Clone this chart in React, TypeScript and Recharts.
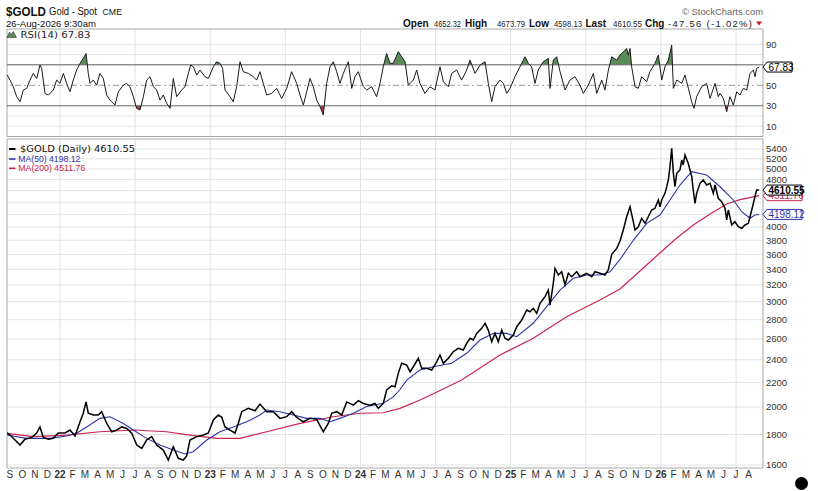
import React from 'react';
import {
  ComposedChart,
  Line,
  Area,
  XAxis,
  YAxis,
  CartesianGrid,
  ReferenceLine,
  ReferenceArea,
} from 'recharts';

type Pt = [number, number];

// time axis: months since 1-Jan-2022 (negative = late 2021)
const X_DOMAIN: [number, number] = [-4.233, 56.15];
const monthLetters = ['J', 'F', 'M', 'A', 'M', 'J', 'J', 'A', 'S', 'O', 'N', 'D'];
const monthTicks = Array.from({ length: 60 }, (_, i) => i - 4);
const halfYearLines = [0, 6, 12, 18, 24, 30, 36, 42, 48, 54];

const priceGrid = [1600, 1800, 2000, 2200, 2400, 2600, 2800, 3000, 3200, 3400, 3600, 3800, 4000, 4200, 4400, 4600, 4800, 5000, 5200, 5400];
const priceLabels = [1600, 1800, 2000, 2200, 2400, 2600, 2800, 3000, 3200, 3400, 3600, 3800, 4000, 4800, 5000, 5200, 5400];
const rsiGrid = [10, 20, 80, 90];
const rsiLabels = [10, 30, 50, 90];

const lastClose = 4610.55;
const lastMA50 = 4198.12;
const lastMA200 = 4511.76;
const lastRSI = 67.83;

const goldDaily: Pt[] = [
  [-4.23, 1812], [-3.99, 1796], [-3.59, 1762], [-3.19, 1728], [-2.8, 1767], [-2.26, 1780], [-1.86, 1810], [-1.6, 1853],
  [-1.33, 1780], [-0.93, 1767], [-0.54, 1774], [-0.14, 1810], [0.4, 1810], [0.8, 1831], [1.2, 1790], [1.6, 1890],
  [1.86, 1953], [2.08, 2040], [2.26, 1953], [2.66, 1940], [3.06, 1940], [3.33, 1965], [3.73, 1878], [4.13, 1819],
  [4.53, 1831], [4.93, 1853], [5.33, 1842], [5.73, 1808], [6.13, 1728], [6.53, 1706], [6.92, 1762], [7.32, 1785],
  [7.72, 1728], [8.25, 1695], [8.65, 1631], [9.05, 1717], [9.45, 1642], [9.85, 1631], [10.12, 1657], [10.38, 1762],
  [10.92, 1785], [11.45, 1796], [11.85, 1810], [12.25, 1903], [12.64, 1940], [12.91, 1925], [13.18, 1853], [13.58, 1831],
  [13.98, 1810], [14.24, 1878], [14.51, 1965], [15.04, 1990], [15.58, 1972], [15.97, 2023], [16.51, 1965], [17.04, 1965],
  [17.57, 1915], [18.11, 1928], [18.51, 1965], [18.91, 1922], [19.43, 1890], [19.97, 1915], [20.5, 1908], [21.03, 1819],
  [21.43, 1878], [21.7, 1953], [22.1, 1965], [22.5, 1940], [22.9, 2040], [23.43, 2015], [23.83, 2050], [24.23, 2028],
  [24.76, 2015], [25.16, 2028], [25.42, 1990], [25.82, 2028], [26.09, 2136], [26.49, 2170], [26.76, 2163], [27.02, 2277],
  [27.29, 2367], [27.69, 2351], [27.96, 2292], [28.22, 2336], [28.62, 2413], [28.89, 2322], [29.29, 2322], [29.69, 2307],
  [30.09, 2381], [30.35, 2444], [30.62, 2367], [31.02, 2413], [31.41, 2475], [31.81, 2508], [32.21, 2491], [32.48, 2556],
  [32.75, 2606], [33.01, 2589], [33.28, 2656], [33.68, 2708], [33.95, 2761], [34.21, 2690], [34.48, 2572], [34.74, 2656],
  [35.01, 2572], [35.28, 2690], [35.54, 2606], [35.81, 2589], [36.21, 2639], [36.48, 2725], [36.88, 2796], [37.28, 2906],
  [37.54, 2887], [37.8, 2925], [38.08, 2869], [38.34, 2982], [38.74, 3059], [39.0, 3138], [39.14, 2962], [39.4, 3220],
  [39.54, 3412], [39.8, 3325], [40.07, 3367], [40.34, 3200], [40.6, 3347], [40.87, 3303], [41.27, 3367], [41.53, 3303],
  [41.8, 3325], [42.07, 3347], [42.47, 3303], [42.73, 3367], [43.13, 3347], [43.53, 3325], [43.79, 3390], [44.07, 3600],
  [44.47, 3684], [44.73, 3790], [44.99, 3953], [45.26, 4161], [45.53, 4324], [45.79, 4082], [45.93, 3953], [46.19, 4004],
  [46.46, 4136], [46.73, 4057], [46.99, 4161], [47.26, 4270], [47.52, 4298], [47.79, 4438], [47.92, 4324], [48.06, 4438],
  [48.32, 4553], [48.46, 4670], [48.59, 4793], [48.72, 5045], [48.86, 5415], [48.99, 4918], [49.12, 4670], [49.26, 4918],
  [49.52, 4981], [49.66, 5176], [49.78, 5078], [49.92, 5277], [50.18, 5111], [50.32, 4981], [50.46, 4854], [50.58, 4612],
  [50.72, 4382], [50.85, 4553], [51.12, 4732], [51.38, 4793], [51.65, 4701], [51.92, 4732], [52.18, 4553], [52.32, 4701],
  [52.58, 4466], [52.85, 4409], [53.12, 4298], [53.25, 4109], [53.38, 4270], [53.65, 4031], [53.91, 4082], [54.18, 4004],
  [54.45, 3979], [54.71, 4031], [54.98, 4057], [55.25, 4270], [55.51, 4494], [55.64, 4612], [55.84, 4610.55],
];

const ma50: Pt[] = [
  [-4.23, 1796], [-2.66, 1773], [-0.8, 1773], [0.53, 1789], [1.33, 1808], [2.13, 1853], [3.19, 1915], [3.99, 1927],
  [5.06, 1878], [5.86, 1831], [6.92, 1773], [7.99, 1728], [9.05, 1695], [9.98, 1670], [10.65, 1684], [11.72, 1762],
  [12.78, 1819], [13.84, 1853], [14.91, 1890], [15.97, 1940], [16.51, 1978], [17.57, 1965], [18.64, 1940], [19.7, 1915],
  [20.77, 1915], [21.57, 1890], [22.36, 1915], [23.43, 1953], [24.5, 2004], [25.82, 2030], [26.62, 2080], [27.16, 2140],
  [27.69, 2219], [28.75, 2307], [29.82, 2336], [31.28, 2367], [32.48, 2460], [33.55, 2589], [34.61, 2656], [35.68, 2656],
  [36.48, 2622], [37.8, 2761], [38.87, 2943], [39.94, 3138], [41.0, 3283], [42.07, 3325], [43.13, 3325], [43.93, 3367],
  [44.73, 3530], [45.79, 3800], [46.86, 4057], [47.92, 4189], [48.72, 4438], [49.52, 4701], [50.45, 4949], [51.65, 4886],
  [52.72, 4670], [53.78, 4438], [54.45, 4242], [55.11, 4136], [55.51, 4189], [55.84, 4198.12],
];

const ma200: Pt[] = [
  [-4.23, 1808], [-2.13, 1785], [0.53, 1796], [3.19, 1819], [5.86, 1831], [8.52, 1819], [10.38, 1796], [12.51, 1773],
  [14.38, 1773], [16.51, 1819], [19.17, 1878], [21.83, 1927], [23.96, 1953], [25.82, 1957], [27.16, 1990], [28.75, 2055],
  [29.82, 2105], [32.08, 2219], [35.14, 2444], [37.8, 2606], [40.47, 2832], [43.13, 3020], [44.73, 3150], [46.59, 3416],
  [47.92, 3619], [49.26, 3834], [50.58, 4031], [51.92, 4205], [53.25, 4370], [54.31, 4445], [55.84, 4511.76],
];

const rsi14: Pt[] = [
  [-4.21, 60.0], [-3.99, 55.1], [-3.73, 48.6], [-3.46, 38.9], [-3.19, 34.0], [-2.93, 45.4], [-2.66, 47.0], [-2.4, 55.1],
  [-2.13, 61.6], [-1.86, 56.7], [-1.6, 69.8], [-1.46, 66.5], [-1.2, 42.1], [-0.93, 40.5], [-0.53, 45.4], [-0.27, 55.1],
  [0, 51.9], [0.27, 61.6], [0.53, 51.9], [0.8, 43.7], [1.06, 55.1], [1.33, 64.9], [1.6, 71.4], [1.86, 76.3],
  [2.08, 81.1], [2.26, 61.6], [2.4, 51.9], [2.66, 55.1], [2.93, 50.2], [3.19, 61.6], [3.46, 56.7], [3.73, 40.5],
  [3.99, 35.6], [4.39, 30.7], [4.66, 43.7], [5.06, 50.2], [5.32, 51.9], [5.59, 48.6], [5.86, 38.9], [6.12, 27.5],
  [6.39, 25.9], [6.66, 38.9], [6.92, 55.1], [7.19, 58.4], [7.46, 48.6], [7.72, 45.4], [7.99, 35.6], [8.25, 40.5],
  [8.52, 32.4], [8.79, 27.5], [9.05, 56.7], [9.32, 38.9], [9.72, 45.4], [9.98, 48.6], [10.25, 61.6], [10.44, 69.8],
  [10.65, 68.1], [10.92, 60.0], [11.18, 64.9], [11.58, 58.4], [11.85, 56.7], [12.25, 68.1], [12.51, 73.0], [12.78, 71.4],
  [12.99, 66.5], [13.18, 45.4], [13.58, 38.9], [13.84, 34.0], [14.11, 48.6], [14.38, 73.0], [14.64, 63.3], [15.04, 61.6],
  [15.44, 58.4], [15.71, 55.1], [15.97, 63.3], [16.24, 51.9], [16.51, 40.5], [16.91, 42.1], [17.31, 47.0], [17.71, 37.2],
  [18.11, 47.0], [18.5, 63.3], [18.9, 51.9], [19.17, 40.5], [19.44, 30.7], [19.7, 43.7], [19.97, 56.7], [20.23, 48.6],
  [20.5, 35.6], [20.77, 29.1], [21.03, 21.0], [21.3, 51.9], [21.57, 68.1], [21.83, 73.0], [22.1, 63.3], [22.36, 51.9],
  [22.63, 61.6], [23.03, 73.0], [23.3, 47.0], [23.56, 58.4], [23.83, 63.3], [24.23, 48.6], [24.5, 45.4], [24.89, 48.6],
  [25.29, 38.9], [25.56, 51.9], [25.82, 68.1], [26.09, 81.1], [26.36, 71.4], [26.62, 71.4], [27.02, 82.8], [27.29, 77.9],
  [27.56, 73.0], [27.82, 50.2], [28.22, 55.1], [28.49, 64.9], [28.75, 51.9], [29.15, 42.1], [29.55, 48.6], [29.95, 45.4],
  [30.35, 68.1], [30.62, 53.5], [31.02, 48.6], [31.28, 61.6], [31.68, 64.9], [32.08, 55.1], [32.48, 64.9], [32.75, 74.6],
  [33.15, 61.6], [33.55, 69.8], [33.95, 73.0], [34.21, 51.9], [34.48, 34.0], [34.74, 48.6], [35.14, 55.1], [35.41, 51.9],
  [35.68, 42.1], [35.94, 47.0], [36.34, 58.4], [36.74, 68.1], [37.14, 77.9], [37.41, 71.4], [37.67, 68.1], [37.94, 51.9],
  [38.2, 64.9], [38.6, 73.0], [39.0, 76.3], [39.14, 47.0], [39.4, 74.6], [39.67, 77.9], [39.94, 63.3], [40.34, 45.4],
  [40.73, 55.1], [41.13, 58.4], [41.53, 50.2], [41.8, 42.1], [42.2, 50.2], [42.6, 61.6], [42.87, 42.1], [43.27, 55.1],
  [43.53, 45.4], [43.8, 64.9], [44.07, 77.9], [44.46, 74.6], [44.73, 79.5], [45.0, 82.8], [45.26, 86.0], [45.39, 79.5],
  [45.53, 86.0], [45.66, 68.1], [45.93, 48.6], [46.19, 47.0], [46.46, 58.4], [46.86, 53.5], [47.12, 63.3], [47.52, 71.4],
  [47.79, 79.5], [48.06, 55.1], [48.32, 68.1], [48.59, 74.6], [48.86, 89.3], [48.99, 47.0], [49.26, 55.1], [49.66, 51.9],
  [49.92, 60.0], [50.19, 47.0], [50.45, 34.0], [50.64, 27.5], [50.85, 38.9], [51.25, 48.6], [51.65, 51.9], [51.92, 37.2],
  [52.32, 51.9], [52.58, 38.9], [52.72, 42.1], [52.98, 37.2], [53.25, 24.2], [53.51, 38.9], [53.78, 30.7], [54.05, 43.7],
  [54.31, 40.5], [54.58, 47.0], [54.85, 45.4], [55.11, 61.6], [55.38, 64.9], [55.51, 58.4], [55.64, 66.5], [55.84, 67.83],
];

const toRows = (pts: Pt[]) => pts.map(([t, v]) => ({ t, v }));
const goldRows = toRows(goldDaily);
const ma50Rows = toRows(ma50);
const ma200Rows = toRows(ma200);
const rsiRows = toRows(rsi14);

const rsiMax = Math.max(...rsi14.map((p) => p[1]));
const rsiMin = Math.min(...rsi14.map((p) => p[1]));
const highOffset = (rsiMax - 70) / (rsiMax - rsiMin);
const lowOffset = (rsiMax - 30) / (rsiMax - rsiMin);

const SANS = '"Liberation Sans", Arial, sans-serif';
const DEJAVU = '"DejaVu Sans", Verdana, sans-serif';
const BLUE = '#2f34a6';
const RED = '#cc2450';
const GRID = '#e2e2e2';
const BORDER = '#a8a8a8';

const MonthTick = (props: any) => {
  const { x, y, payload } = props;
  const m = payload.value as number;
  const mi = ((m % 12) + 12) % 12;
  const isYear = mi === 0;
  const label = isYear ? String(22 + m / 12) : monthLetters[mi];
  return (
    <text
      x={x}
      y={y + 8}
      textAnchor="middle"
      fontSize={10}
      fontFamily={SANS}
      fontWeight={isYear ? 700 : 400}
      fill="#333"
    >
      {label}
    </text>
  );
};

const ValueTag = (props: any) => {
  const { viewBox, text, color, bold, w = 39 } = props;
  if (!viewBox) return null;
  const x0 = viewBox.x + viewBox.width;
  const cy = viewBox.y;
  const h = 10;
  const d = `M${x0},${cy} L${x0 + 4},${cy - h / 2} L${x0 + w},${cy - h / 2} L${x0 + w},${cy + h / 2} L${x0 + 4},${cy + h / 2} Z`;
  return (
    <g>
      <path d={d} fill="#fff" stroke={color} strokeWidth={1} />
      <text
        x={x0 + 5.5}
        y={cy + 3.6}
        fontSize={10}
        fontFamily={SANS}
        fontWeight={bold ? 700 : 400}
        fill={color}
      >
        {text}
      </text>
    </g>
  );
};

const yTick = { fontSize: 9.5, fill: '#333', fontFamily: SANS };

export default function App() {
  return (
    <div style={{ position: 'absolute', left: 0, top: 0, width: 818, height: 491, background: '#fff', overflow: 'hidden' }}>
      <div style={{ position: 'absolute', left: 0, top: 0 }}>
        <ComposedChart width={818} height={137} margin={{ top: 29, right: 0, bottom: 0.5, left: 7 }}>
          <defs>
            <linearGradient id="rsiHigh" x1="0" y1="0" x2="0" y2="1">
              <stop offset={highOffset} stopColor="#5b8b5b" stopOpacity={1} />
              <stop offset={highOffset} stopColor="#5b8b5b" stopOpacity={0} />
            </linearGradient>
            <linearGradient id="rsiLow" x1="0" y1="0" x2="0" y2="1">
              <stop offset={lowOffset} stopColor="#a83a3a" stopOpacity={0} />
              <stop offset={lowOffset} stopColor="#a83a3a" stopOpacity={1} />
            </linearGradient>
          </defs>
          <XAxis type="number" dataKey="t" domain={X_DOMAIN} allowDataOverflow hide />
          <YAxis
            orientation="right"
            type="number"
            domain={[0, 105]}
            ticks={rsiLabels}
            interval={0}
            width={55}
            tickLine={false}
            axisLine={false}
            tickSize={2}
            tickMargin={1}
            tick={yTick}
          />
          <CartesianGrid horizontalValues={rsiGrid} verticalValues={halfYearLines} stroke={GRID} />
          <ReferenceArea x1={X_DOMAIN[0]} x2={X_DOMAIN[1]} y1={0} y2={105} fill="none" stroke={BORDER} />
          <ReferenceLine y={70} stroke="#666" />
          <ReferenceLine y={30} stroke="#666" />
          <ReferenceLine y={50} stroke="#999" strokeDasharray="6 3 2 3" />
          <Area
            data={rsiRows}
            dataKey="v"
            type="linear"
            baseValue={70}
            stroke="none"
            fill="url(#rsiHigh)"
            fillOpacity={1}
            isAnimationActive={false}
            dot={false}
            activeDot={false}
          />
          <Area
            data={rsiRows}
            dataKey="v"
            type="linear"
            baseValue={30}
            stroke="none"
            fill="url(#rsiLow)"
            fillOpacity={1}
            isAnimationActive={false}
            dot={false}
            activeDot={false}
          />
          <Line
            data={rsiRows}
            dataKey="v"
            type="linear"
            stroke="#1a1a1a"
            strokeWidth={1}
            dot={false}
            activeDot={false}
            isAnimationActive={false}
          />
          <ReferenceLine y={lastRSI} stroke="none" label={<ValueTag text="67.83" color="#000" w={29} />} />
        </ComposedChart>
      </div>

      <div style={{ position: 'absolute', left: 0, top: 137 }}>
        <ComposedChart width={818} height={354} margin={{ top: 2, right: 0, bottom: 3, left: 7 }}>
          <XAxis
            type="number"
            dataKey="t"
            domain={X_DOMAIN}
            allowDataOverflow
            ticks={monthTicks}
            interval={0}
            tick={<MonthTick />}
            tickLine={false}
            axisLine={false}
            height={20}
            tickSize={0}
            tickMargin={2}
          />
          <YAxis
            orientation="right"
            type="number"
            scale="log"
            domain={[1582, 5612]}
            allowDataOverflow
            ticks={priceLabels}
            interval={0}
            width={55}
            tickLine={false}
            axisLine={false}
            tickSize={2}
            tickMargin={1}
            tick={yTick}
          />
          <CartesianGrid horizontalValues={priceGrid} verticalValues={halfYearLines} stroke={GRID} />
          <ReferenceArea x1={X_DOMAIN[0]} x2={X_DOMAIN[1]} y1={1582} y2={5612} fill="none" stroke={BORDER} />
          <Line
            data={ma200Rows}
            dataKey="v"
            type="linear"
            stroke={RED}
            strokeWidth={1.2}
            dot={false}
            activeDot={false}
            isAnimationActive={false}
          />
          <Line
            data={ma50Rows}
            dataKey="v"
            type="linear"
            stroke={BLUE}
            strokeWidth={1.1}
            dot={false}
            activeDot={false}
            isAnimationActive={false}
          />
          <Line
            data={goldRows}
            dataKey="v"
            type="linear"
            stroke="#000"
            strokeWidth={1.5}
            dot={false}
            activeDot={false}
            isAnimationActive={false}
          />
          <ReferenceLine y={lastMA200} stroke="none" label={<ValueTag text="4511.76" color={RED} />} />
          <ReferenceLine y={lastMA50} stroke="none" label={<ValueTag text="4198.12" color={BLUE} />} />
          <ReferenceLine y={lastClose} stroke="none" label={<ValueTag text="4610.55" color="#000" bold />} />
        </ComposedChart>
      </div>

      <svg width={818} height={491} style={{ position: 'absolute', left: 0, top: 0, pointerEvents: 'none' }}>
        <g fontFamily={SANS} fill="#111">
          <text x={6} y={15.5} fontSize={12.5} fontWeight={700} textLength={40} lengthAdjust="spacingAndGlyphs">$GOLD</text>
          <text x={49} y={15} fontSize={10} textLength={48} lengthAdjust="spacingAndGlyphs">Gold - Spot</text>
          <text x={102.5} y={15} fontSize={8.5} textLength={19.5} lengthAdjust="spacingAndGlyphs">CME</text>
          <text x={6} y={26.5} fontSize={9.5} textLength={90} lengthAdjust="spacingAndGlyphs">26-Aug-2026 9:30am</text>
          <text x={682} y={14.5} fontSize={9.5} fill="#666" textLength={81} lengthAdjust="spacingAndGlyphs">© StockCharts.com</text>

          <text x={403} y={26.5} fontSize={10} fontWeight={700}>Open</text>
          <text x={434} y={26.5} fontSize={8.5} fill="#222" textLength={27} lengthAdjust="spacingAndGlyphs">4652.32</text>
          <text x={465} y={26.5} fontSize={10} fontWeight={700}>High</text>
          <text x={497} y={26.5} fontSize={8.5} fill="#222" textLength={28} lengthAdjust="spacingAndGlyphs">4673.79</text>
          <text x={529} y={26.5} fontSize={10} fontWeight={700}>Low</text>
          <text x={554} y={26.5} fontSize={8.5} fill="#222" textLength={28} lengthAdjust="spacingAndGlyphs">4598.13</text>
          <text x={585.5} y={26.5} fontSize={10} fontWeight={700}>Last</text>
          <text x={613} y={26.5} fontSize={8.5} fill="#222" textLength={29} lengthAdjust="spacingAndGlyphs">4610.55</text>
          <text x={645} y={26.5} fontSize={10} fontWeight={700}>Chg</text>
          <text x={668} y={26.5} fontSize={9.5} fill="#222" textLength={84} lengthAdjust="spacing">-47.56 (-1.02%)</text>
          <polygon points="756,21.5 762,21.5 759,25.5" fill="#c8102e" />
        </g>

        <polygon points="7,37.5 9.5,32 11.2,34.8 13.3,31.5 16.5,37.5" fill="#5b8b5b" stroke="#333" strokeWidth={0.6} />
        <text x={20.5} y={37.5} fontSize={9.5} fontFamily={DEJAVU} fill="#222" textLength={70} lengthAdjust="spacingAndGlyphs">RSI(14) 67.83</text>

        <line x1={9} x2={15.5} y1={149} y2={149} stroke="#000" strokeWidth={2} />
        <text x={20} y={151.8} fontSize={9.5} fontFamily={DEJAVU} fill="#111" textLength={115} lengthAdjust="spacingAndGlyphs">$GOLD (Daily) 4610.55</text>
        <line x1={9} x2={15.5} y1={159} y2={159} stroke={BLUE} strokeWidth={1.6} />
        <text x={18.3} y={161.6} fontSize={9} fontFamily={SANS} fill={BLUE} textLength={62} lengthAdjust="spacingAndGlyphs">MA(50) 4198.12</text>
        <line x1={9} x2={15.5} y1={168.3} y2={168.3} stroke={RED} strokeWidth={1.6} />
        <text x={18.3} y={170.8} fontSize={9} fontFamily={SANS} fill={RED} textLength={67} lengthAdjust="spacingAndGlyphs">MA(200) 4511.76</text>

        <circle cx={801.5} cy={483.5} r={6.5} fill="#000" />
      </svg>
    </div>
  );
}
